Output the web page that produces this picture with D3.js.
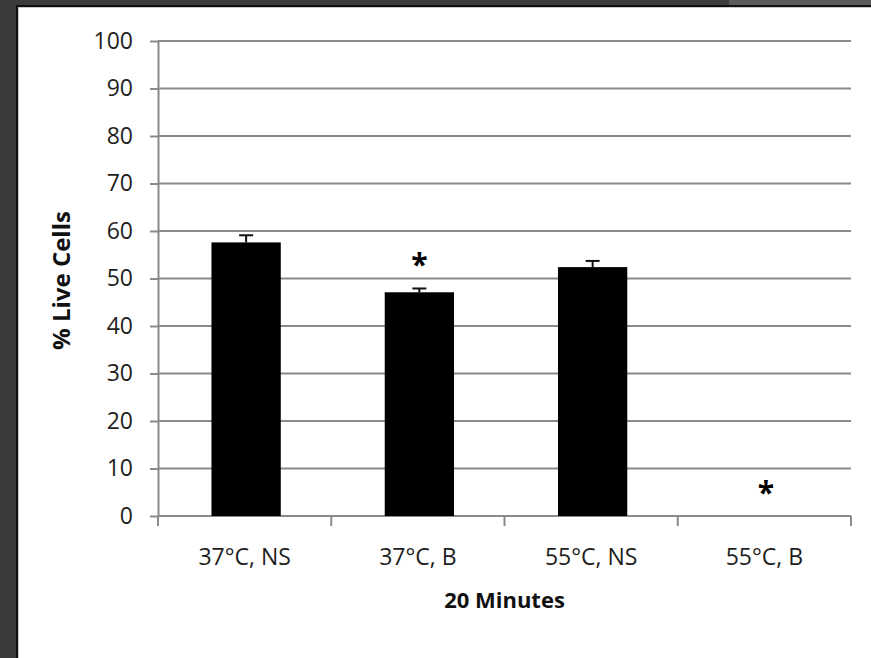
<!DOCTYPE html>
<html>
<head>
<meta charset="utf-8">
<script src="https://cdn.jsdelivr.net/npm/d3@7"></script>
<style>
  html, body { margin: 0; padding: 0; background: #3b3b3b; }
  svg { display: block; }
</style>
</head>
<body>
<svg id="chart" width="871" height="658"></svg>
<script>
// Viability after 20 minutes at each temperature / treatment
const categories = ["37°C, NS", "37°C, B", "55°C, NS", "55°C, B"];
const liveCells = [57.6, 47.1, 52.4, 0];
const errors = [1.5, 0.8, 1.3, 0];
const significant = [false, true, false, true];
const yTicks = [0, 10, 20, 30, 40, 50, 60, 70, 80, 90, 100];
const xTitle = "20 Minutes";
const yTitle = "% Live Cells";

const svg = d3.select("#chart");
const W = 871, H = 658;

// window frame around the white panel
svg.append("rect").attr("x", 0).attr("y", 0).attr("width", W).attr("height", H).attr("fill", "#3b3b3b");
svg.append("rect").attr("x", 729).attr("y", 0).attr("width", W - 729).attr("height", 6).attr("fill", "#5a5a5a");
svg.append("rect").attr("x", 16).attr("y", 5).attr("width", W - 16).attr("height", H - 5).attr("fill", "#111");
svg.append("rect").attr("x", 18).attr("y", 7).attr("width", W - 18).attr("height", H - 7).attr("fill", "#c8c8c8");
svg.append("rect").attr("x", 19).attr("y", 8).attr("width", W - 19).attr("height", H - 8).attr("fill", "#ffffff");

const plot = { left: 158, right: 851, top: 41, bottom: 516 };

const x = d3.scaleBand().domain(categories).range([plot.left, plot.right]).padding(0);
const y = d3.scaleLinear().domain([0, 100]).range([plot.bottom, plot.top]);

const font = "'Open Sans', 'Noto Sans', sans-serif";
const gridColor = "#8a8a8a";
const labelColor = "#1e1e1e";

// horizontal gridlines
svg.append("g")
  .selectAll("line")
  .data(yTicks.filter(d => d > 0))
  .join("line")
  .attr("x1", plot.left).attr("x2", plot.right)
  .attr("y1", d => y(d)).attr("y2", d => y(d))
  .attr("stroke", gridColor).attr("stroke-width", 2);

// y axis
const yAxis = d3.axisLeft(y).tickValues(yTicks).tickSize(8).tickPadding(17).tickSizeOuter(0);
const gy = svg.append("g").attr("transform", `translate(${plot.left},0)`).call(yAxis);
gy.select(".domain").attr("stroke", gridColor).attr("stroke-width", 2);
gy.selectAll(".tick line").attr("stroke", gridColor).attr("stroke-width", 2);
gy.selectAll(".tick text")
  .attr("font-family", font).attr("font-size", 23).attr("fill", labelColor);

// x axis: ticks between categories
const gx = svg.append("g").attr("transform", `translate(0,${plot.bottom})`);
gx.append("line")
  .attr("x1", plot.left).attr("x2", plot.right)
  .attr("stroke", gridColor).attr("stroke-width", 2);
const edges = categories.map(c => x(c)).concat([x(categories[categories.length - 1]) + x.bandwidth()]);
gx.selectAll("line.edge")
  .data(edges)
  .join("line")
  .attr("class", "edge")
  .attr("x1", d => d).attr("x2", d => d)
  .attr("y1", 0).attr("y2", 10)
  .attr("stroke", gridColor).attr("stroke-width", 2);
gx.selectAll("text")
  .data(categories)
  .join("text")
  .attr("x", d => x(d) + x.bandwidth() / 2)
  .attr("y", 49)
  .attr("text-anchor", "middle")
  .attr("font-family", font).attr("font-size", 23).attr("fill", labelColor)
  .text(d => d);

// bars
const barW = x.bandwidth() * 0.4;
const cx = c => x(c) + x.bandwidth() / 2 + 1.5;
svg.append("g")
  .selectAll("rect")
  .data(categories)
  .join("rect")
  .attr("x", d => cx(d) - barW / 2)
  .attr("y", (d, i) => y(liveCells[i]))
  .attr("width", barW)
  .attr("height", (d, i) => y(0) - y(liveCells[i]))
  .attr("fill", "#000");

// error bars
const eb = svg.append("g").attr("stroke", "#111").attr("stroke-width", 2);
categories.forEach((c, i) => {
  if (errors[i] <= 0) return;
  const top = y(liveCells[i] + errors[i]);
  eb.append("line").attr("x1", cx(c)).attr("x2", cx(c)).attr("y1", y(liveCells[i])).attr("y2", top);
  eb.append("line").attr("x1", cx(c) - 7).attr("x2", cx(c) + 7).attr("y1", top).attr("y2", top);
});

// significance markers above the error bars
svg.append("g")
  .selectAll("text")
  .data(categories.filter((c, i) => significant[i]))
  .join("text")
  .attr("x", d => cx(d))
  .attr("y", d => { const i = categories.indexOf(d); return y(liveCells[i] + errors[i]) - 13; })
  .attr("text-anchor", "middle")
  .attr("font-family", font).attr("font-weight", 700).attr("font-size", 30).attr("fill", "#000")
  .text("*");

// axis titles
svg.append("text")
  .attr("x", (plot.left + plot.right) / 2)
  .attr("y", 608)
  .attr("text-anchor", "middle")
  .attr("font-family", font).attr("font-weight", 700).attr("font-size", 22).attr("fill", "#111")
  .text(xTitle);

svg.append("text")
  .attr("transform", `translate(70,${(plot.top + plot.bottom) / 2 + 2}) rotate(-90)`)
  .attr("text-anchor", "middle")
  .attr("font-family", font).attr("font-weight", 700).attr("font-size", 24).attr("fill", "#111")
  .text(yTitle);
</script>
</body>
</html>
